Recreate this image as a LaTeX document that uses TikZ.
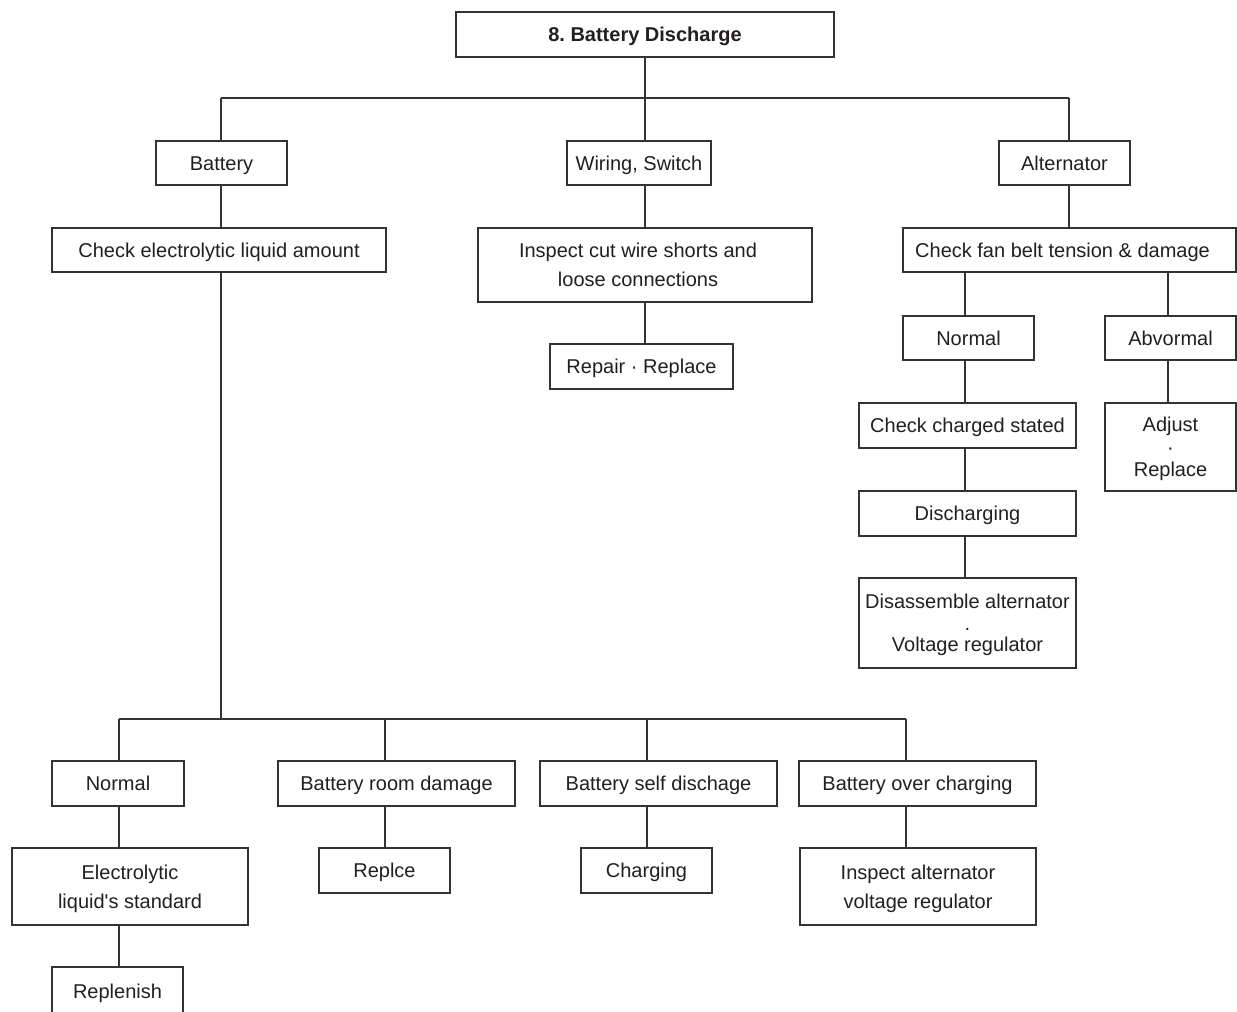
\documentclass[tikz,border=0pt]{standalone}
\usepackage{fontspec}
\setmainfont{Liberation Sans}
\frenchspacing
\definecolor{ink}{HTML}{231F20}
\definecolor{linec}{HTML}{333333}
\tikzset{
  box/.style={draw=linec, line width=1.3pt, inner sep=0pt, align=center, text=ink,
    font=\fontsize{20}{29}\selectfont, text height=14.3pt, text depth=0pt},
  twoline/.style={text height=43.3pt},
  threeline/.style={font=\fontsize{20}{#1}\selectfont, text height={(14.3+2*#1)*1pt}},
  conn/.style={draw=linec, line width=1.3pt},
}
\newcommand\mkbox[7][]{%
  \node[box, #1, minimum width={(#4-#3)*1pt}, minimum height={(#6-#5)*1pt}] (#2)
    at ({(#3+#4)/2},{(#5+#6)/2}) {#7};}
\begin{document}
\begin{tikzpicture}[x=1pt,y=-1pt]
\useasboundingbox[fill=white] (0,0) rectangle (1237,1012);
% title
\node[box, line width=2.5pt, font=\bfseries\fontsize{20}{24}\selectfont,
  minimum width=378pt, minimum height=45pt] (title) at (645,34.5) {8. Battery Discharge};
% level 1
\mkbox{battery}{156}{287}{141}{185}{Battery}
\mkbox{wiring}{567}{711}{141}{185}{Wiring, Switch}
\mkbox{alt}{999}{1130}{141}{185}{Alternator}
% battery branch
\mkbox{checkel}{52}{386}{228}{272}{Check electrolytic liquid amount}
% wiring branch
\mkbox[twoline]{inspect}{478}{812}{228}{302}{Inspect cut wire shorts and\hspace*{14pt}\\loose connections\hspace*{14pt}}
\mkbox{repair}{550}{733}{344}{389}{Repair {\textperiodcentered} Replace}
% alternator branch
\mkbox{fan}{903}{1236}{228}{272}{Check fan belt tension \& damage\hspace*{14pt}}
\mkbox{normR}{903}{1034}{316}{360}{Normal}
\mkbox{abn}{1105}{1236}{316}{360}{Abvormal}
\mkbox{chk}{859}{1076}{403}{448}{Check charged stated}
\mkbox{dis}{859}{1076}{491}{536}{Discharging}
\mkbox[threeline=21.25]{dasm}{859}{1076}{578}{668}{Disassemble alternator\\.\\Voltage regulator}
\mkbox[threeline=22.25]{adj}{1105}{1236}{403}{491}{Adjust\\\textperiodcentered\\Replace}
% bottom row
\mkbox{normL}{52}{184}{761}{806}{Normal}
\mkbox{room}{278}{515}{761}{806}{Battery room damage}
\mkbox{self}{540}{777}{761}{806}{Battery self dischage}
\mkbox{over}{799}{1036}{761}{806}{Battery over charging}
\mkbox[twoline]{elec}{12}{248}{848}{925}{Electrolytic\\liquid\textquotesingle s standard}
\mkbox{replce}{319}{450}{848}{893}{Replce}
\mkbox{charging}{581}{712}{848}{893}{Charging}
\mkbox[twoline]{inspAlt}{800}{1036}{848}{925}{Inspect alternator\\voltage regulator}
\mkbox{repl}{52}{183}{967}{1015}{Replenish}
% connector coordinates
\coordinate (busT) at (645,98);
\coordinate (busL) at (221,98);
\coordinate (busR) at (1069,98);
\coordinate (xN) at (965,0);
\coordinate (xA) at (1168,0);
\coordinate (b2m) at (221,719);
\coordinate (b2L) at (119,719);
\coordinate (b2R) at (906,719);
\coordinate (x2) at (385,719);
\coordinate (x3) at (647,719);
% top connectors
\draw[conn] (title.south) -- (busT);
\draw[conn] (busL) -- (busR);
\draw[conn] (busL) -- (busL |- battery.north);
\draw[conn] (busT) -- (busT |- wiring.north);
\draw[conn] (busR) -- (busR |- alt.north);
\draw[conn] (busL |- battery.south) -- (busL |- checkel.north);
\draw[conn] (busT |- wiring.south) -- (busT |- inspect.north);
\draw[conn] (busT |- inspect.south) -- (busT |- repair.north);
\draw[conn] (busR |- alt.south) -- (busR |- fan.north);
\draw[conn] (xN |- fan.south) -- (xN |- normR.north);
\draw[conn] (xA |- fan.south) -- (xA |- abn.north);
\draw[conn] (xN |- normR.south) -- (xN |- chk.north);
\draw[conn] (xN |- chk.south) -- (xN |- dis.north);
\draw[conn] (xN |- dis.south) -- (xN |- dasm.north);
\draw[conn] (xA |- abn.south) -- (xA |- adj.north);
% bottom connectors
\draw[conn] (busL |- checkel.south) -- (b2m);
\draw[conn] (b2L) -- (b2R);
\draw[conn] (b2L) -- (b2L |- normL.north);
\draw[conn] (x2) -- (x2 |- room.north);
\draw[conn] (x3) -- (x3 |- self.north);
\draw[conn] (b2R) -- (b2R |- over.north);
\draw[conn] (b2L |- normL.south) -- (b2L |- elec.north);
\draw[conn] (b2L |- elec.south) -- (b2L |- repl.north);
\draw[conn] (x2 |- room.south) -- (x2 |- replce.north);
\draw[conn] (x3 |- self.south) -- (x3 |- charging.north);
\draw[conn] (b2R |- over.south) -- (b2R |- inspAlt.north);
\end{tikzpicture}
\end{document}
